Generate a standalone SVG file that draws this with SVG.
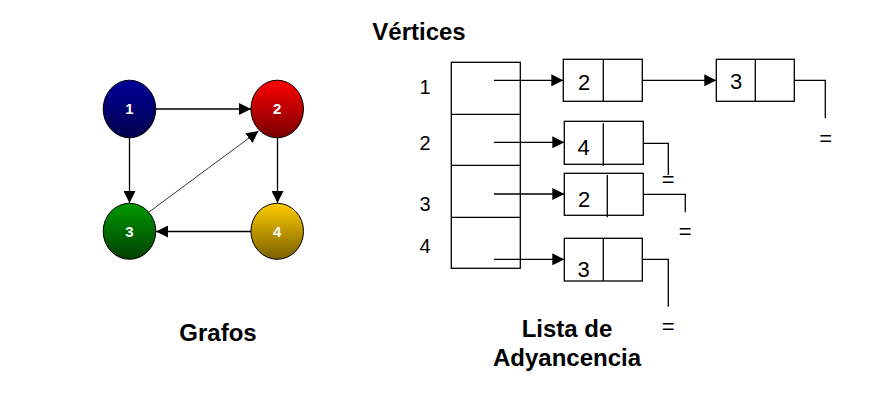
<svg xmlns="http://www.w3.org/2000/svg" width="885" height="401" viewBox="0 0 885 401">
<style>
.t{font-family:"Liberation Sans",Arial,sans-serif;fill:#000}
.title{font-size:24px;font-weight:bold}
.idx{font-size:20px}
.dig{font-size:22px}
.nl{font-family:"Liberation Sans",Arial,sans-serif;font-size:15px;font-weight:bold;fill:#fff}
.node{stroke:#000;stroke-width:1}
.box{fill:#fff;stroke:#000;stroke-width:1.3}
.ln{fill:none;stroke:#000;stroke-width:1.3}
.e{stroke:#000;stroke-width:1.3;fill:none}
</style>
<defs>
<linearGradient id="gB" x1="0" y1="0" x2="0" y2="1"><stop offset="0" stop-color="#00009a"/><stop offset="1" stop-color="#00004a"/></linearGradient>
<linearGradient id="gR" x1="0" y1="0" x2="0" y2="1"><stop offset="0" stop-color="#ff0000"/><stop offset="1" stop-color="#780000"/></linearGradient>
<linearGradient id="gG" x1="0" y1="0" x2="0" y2="1"><stop offset="0" stop-color="#009a00"/><stop offset="1" stop-color="#004000"/></linearGradient>
<linearGradient id="gY" x1="0" y1="0" x2="0" y2="1"><stop offset="0" stop-color="#ffcc00"/><stop offset="1" stop-color="#7a6000"/></linearGradient>
<marker id="ah" viewBox="0 0 12 12" refX="12" refY="6" markerWidth="12" markerHeight="12" markerUnits="userSpaceOnUse" orient="auto"><path d="M0,0 L12,6 L0,12 Z" fill="#000"/></marker>
</defs>
<rect width="885" height="401" fill="#fff"/>

<!-- graph connectors -->
<g id="graph-edges">
<line class="e" x1="156" y1="109" x2="251" y2="109" marker-end="url(#ah)"/>
<line class="e" x1="129.5" y1="138" x2="129.5" y2="203" marker-end="url(#ah)"/>
<line class="e" x1="277.5" y1="138" x2="277.5" y2="203" marker-end="url(#ah)"/>
<line class="e" x1="251" y1="231.5" x2="156" y2="231.5" marker-end="url(#ah)"/>
<line class="e" x1="149" y1="212" x2="258.5" y2="131" style="stroke-width:0.8" marker-end="url(#ah)"/>
</g>

<g id="node1"><ellipse class="node" cx="129.5" cy="109" rx="26.3" ry="28.8" fill="url(#gB)"/><text class="nl" x="129.5" y="114" text-anchor="middle">1</text></g>
<g id="node2"><ellipse class="node" cx="277.2" cy="109" rx="26.3" ry="28.8" fill="url(#gR)"/><text class="nl" x="277.2" y="114" text-anchor="middle">2</text></g>
<g id="node3"><ellipse class="node" cx="129.5" cy="231.3" rx="26.3" ry="28" fill="url(#gG)"/><text class="nl" x="129.5" y="236.5" text-anchor="middle">3</text></g>
<g id="node4"><ellipse class="node" cx="277.2" cy="231.3" rx="26.3" ry="28" fill="url(#gY)"/><text class="nl" x="277.2" y="236.5" text-anchor="middle">4</text></g>

<text class="t title" x="218" y="341" text-anchor="middle">Grafos</text>
<text class="t title" x="419" y="40" text-anchor="middle">Vértices</text>
<text class="t title" x="567" y="337" text-anchor="middle">Lista de</text>
<text class="t title" x="567" y="366" text-anchor="middle">Adyancencia</text>

<!-- vertex array -->
<g id="vertices">
<rect class="box" x="451.3" y="62.3" width="69" height="206"/>
<line class="ln" x1="451.3" y1="114.3" x2="520.3" y2="114.3"/>
<line class="ln" x1="451.3" y1="165.3" x2="520.3" y2="165.3"/>
<line class="ln" x1="451.3" y1="217.3" x2="520.3" y2="217.3"/>
<text class="t idx" x="425" y="94" text-anchor="middle">1</text>
<text class="t idx" x="425" y="150" text-anchor="middle">2</text>
<text class="t idx" x="425" y="211" text-anchor="middle">3</text>
<text class="t idx" x="425" y="253" text-anchor="middle">4</text>
</g>

<!-- list nodes -->
<g id="list1a"><rect class="box" x="563.3" y="59.3" width="79" height="42"/><line class="ln" x1="603.3" y1="59.3" x2="603.3" y2="101.3"/><text class="t dig" x="584" y="90" text-anchor="middle">2</text></g>
<g id="list1b"><rect class="box" x="716.3" y="59.3" width="78" height="42"/><line class="ln" x1="755.3" y1="59.3" x2="755.3" y2="101.3"/><text class="t dig" x="736" y="88.5" text-anchor="middle">3</text></g>
<g id="list2"><rect class="box" x="564.3" y="121.3" width="79" height="43"/><line class="ln" x1="603.3" y1="123.3" x2="603.3" y2="165.7"/><text class="t dig" x="583.5" y="155" text-anchor="middle">4</text></g>
<g id="list3"><rect class="box" x="564.3" y="173.3" width="79" height="42"/><line class="ln" x1="607.3" y1="175" x2="607.3" y2="217.3"/><text class="t dig" x="584" y="206.7" text-anchor="middle">2</text></g>
<g id="list4"><rect class="box" x="564.3" y="238.3" width="78" height="42.7"/><line class="ln" x1="603.3" y1="238.3" x2="603.3" y2="281"/><text class="t dig" x="583.5" y="277" text-anchor="middle">3</text></g>

<!-- list connectors -->
<g id="list-edges">
<line class="ln" x1="494" y1="80.3" x2="563.3" y2="80.3" marker-end="url(#ah)"/>
<line class="ln" x1="494" y1="142.3" x2="564.3" y2="142.3" marker-end="url(#ah)"/>
<line class="ln" x1="494" y1="194" x2="564.3" y2="194" marker-end="url(#ah)"/>
<line class="ln" x1="494" y1="259.3" x2="564.3" y2="259.3" marker-end="url(#ah)"/>
<line class="ln" x1="642.3" y1="80.3" x2="716.3" y2="80.3" marker-end="url(#ah)"/>
<polyline class="ln" points="794.3,80.3 825.3,80.3 825.3,118.3"/>
<polyline class="ln" points="643.3,143.3 668.3,143.3 668.3,175"/>
<polyline class="ln" points="643.3,194.3 685.3,194.3 685.3,212.3"/>
<polyline class="ln" points="642.3,259.3 668.3,259.3 668.3,306.7"/>
<text class="t dig" x="825.7" y="146" text-anchor="middle">=</text>
<text class="t dig" x="668.3" y="187" text-anchor="middle">=</text>
<text class="t dig" x="685.3" y="239" text-anchor="middle">=</text>
<text class="t dig" x="668.3" y="334" text-anchor="middle">=</text>
</g>
</svg>
